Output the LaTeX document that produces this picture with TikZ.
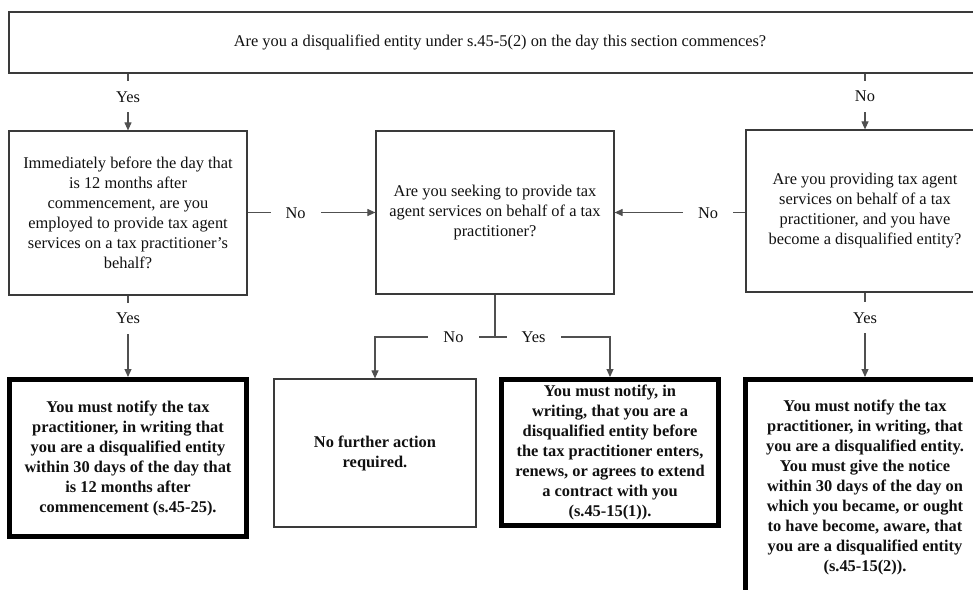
\documentclass[tikz,border=0pt]{standalone}
\usepackage{fontspec}
\setmainfont{Liberation Serif}
\usepackage{xcolor}
\usetikzlibrary{arrows.meta,positioning}
\definecolor{txInk}{HTML}{111111}
\definecolor{txLine}{HTML}{3A3A3A}
\definecolor{txConnector}{HTML}{505050}
\tikzset{
  tx diagram/.style={font=\fontsize{16.4pt}{20pt}\selectfont, text=txInk,
    x=1pt, y=-1pt},
  tx box/.style={draw=txLine, fill=white, line width=1.2pt,
    align=center, inner sep=0pt},
  tx outcome/.style={tx box, font=\fontsize{16.4pt}{20pt}\selectfont\bfseries},
  tx key box/.style={tx outcome, draw=black, line width=5pt},
  tx arrow/.style={-{Triangle[length=8pt,width=7pt]}, draw=txConnector, line width=1.1pt},
  tx line/.style={draw=txConnector, line width=1.1pt},
  tx label/.style={fill=white, inner xsep=15pt, inner ysep=10pt,
    text height=11pt, text depth=0pt}
}
\begin{document}
\begin{tikzpicture}[tx diagram]
\useasboundingbox (0,0) rectangle (973,589);
\clip (0,0) rectangle (973,589);
% questions
\node[tx box, minimum width=982pt, minimum height=61pt] (entity) at (500,42.5)
  {Are you a disqualified entity under s.45-5(2) on the day this section commences?};
\node[tx box, minimum width=238pt, minimum height=164pt] (employed) at (128,213)
  {Immediately before the day that\\is 12 months after\\commencement, are you\\employed to provide tax agent\\services on a tax practitioner’s\\behalf?};
\node[tx box, minimum width=238pt, minimum height=163pt] (seek) at (495,212.5)
  {Are you seeking to provide tax\\agent services on behalf of a tax\\practitioner?};
\node[tx box, minimum width=238pt, minimum height=162pt] (providing) at (865,211)
  {Are you providing tax agent\\services on behalf of a tax\\practitioner, and you have\\become a disqualified entity?};
% outcomes
\node[tx key box, minimum width=237pt, minimum height=157pt] (notifyEmployed) at (128,458)
  {You must notify the tax\\practitioner, in writing that\\you are a disqualified entity\\within 30 days of the day that\\is 12 months after\\commencement (s.45-25).};
\node[tx outcome, minimum width=202pt, minimum height=148pt] (noAction) at (375,453)
  {No further action\\required.};
\node[tx key box, minimum width=217pt, minimum height=146pt] (notifyBefore) at (610,452.5)
  {You must notify, in\\writing, that you are a\\disqualified entity before\\the tax practitioner enters,\\renews, or agrees to extend\\a contract with you\\(s.45-15(1)).};
\node[tx key box, minimum width=239pt, minimum height=216pt] (notifyAware) at (865,487.5)
  {You must notify the tax\\practitioner, in writing, that\\you are a disqualified entity.\\You must give the notice\\within 30 days of the day on\\which you became, or ought\\to have become, aware, that\\you are a disqualified entity\\(s.45-15(2)).};
% connectors
\draw[tx arrow] (entity.south -| employed.north) -- node[tx label, pos=0.41] {Yes} (employed.north);
\draw[tx arrow] (entity.south -| providing.north) -- node[tx label, pos=0.41] {No} (providing.north);
\draw[tx arrow] (employed.east |- seek.west) -- node[tx label, pos=0.375] {No} (seek.west);
\draw[tx arrow] (providing.west |- seek.west) -- node[tx label, pos=0.285] {No} (seek.east);
\draw[tx arrow] (employed.south) -- node[tx label, pos=0.28] {Yes} (notifyEmployed.north);
\draw[tx arrow] (providing.south) -- node[tx label, pos=0.3] {Yes} (notifyAware.north);
\coordinate (fork) at (seek.south |- 0,337);
\draw[tx line] (seek.south) -- (fork);
\draw[tx arrow] (fork) -| node[tx label, pos=0.173] {No} (noAction.north);
\draw[tx arrow] (fork) -| node[tx label, pos=0.168] {Yes} (notifyBefore.north);
\end{tikzpicture}
\end{document}
